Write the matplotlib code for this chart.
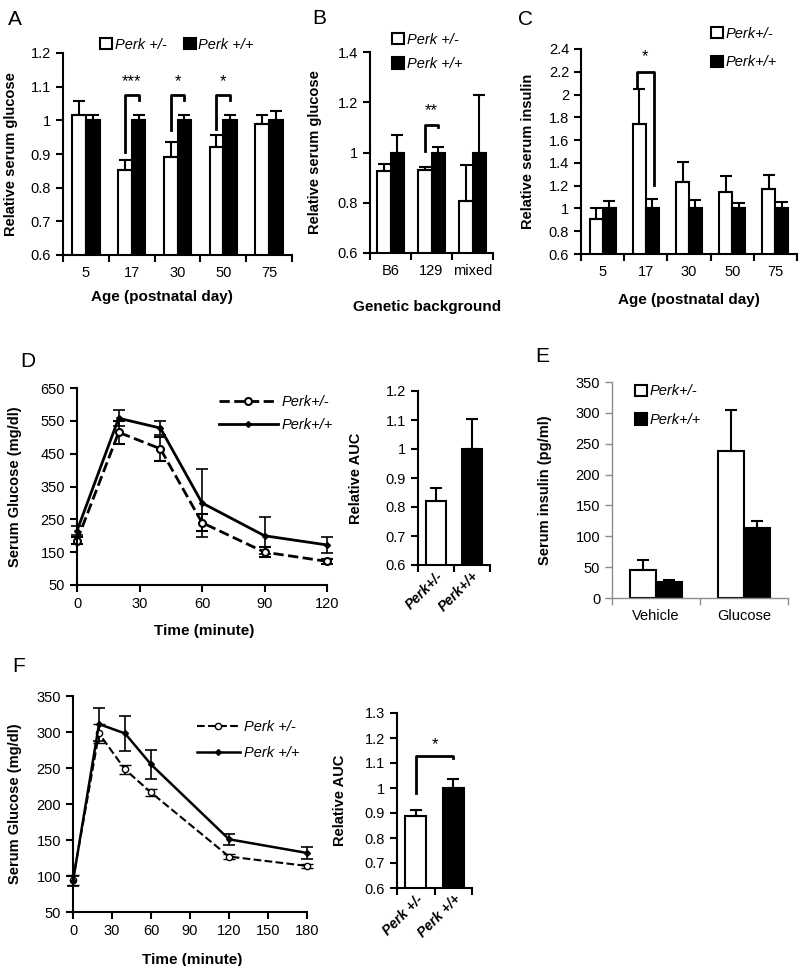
import numpy as np
import matplotlib
matplotlib.use("Agg")
import matplotlib.pyplot as plt
from matplotlib.patches import Patch
from matplotlib.lines import Line2D
from matplotlib.ticker import FormatStrFormatter, FuncFormatter

plt.rcParams['font.family'] = ['Liberation Sans', 'DejaVu Sans']

# ---- data ----
# A: relative serum glucose by age
ages = ['5', '17', '30', '50', '75']
a_het = [1.017, 0.853, 0.89, 0.92, 0.99]
a_het_err = [0.04, 0.028, 0.046, 0.035, 0.025]
a_wt = [1.0, 1.0, 1.0, 1.0, 1.0]
a_wt_err = [0.016, 0.016, 0.017, 0.016, 0.028]

# B: by genetic background
backgrounds = ['B6', '129', 'mixed']
b_het = [0.927, 0.931, 0.807]
b_het_err = [0.027, 0.012, 0.143]
b_wt = [1.0, 1.0, 1.0]
b_wt_err = [0.068, 0.02, 0.228]

# C: relative serum insulin by age
c_het = [0.91, 1.74, 1.23, 1.145, 1.175]
c_het_err = [0.09, 0.31, 0.18, 0.14, 0.12]
c_wt = [1.0, 1.0, 1.0, 1.0, 1.0]
c_wt_err = [0.065, 0.085, 0.075, 0.045, 0.055]

# D: GTT
d_time = [0, 20, 40, 60, 90, 120]
d_het = [185, 515, 465, 240, 150, 122]
d_het_err = [10, 35, 37, 25, 15, 7]
d_wt = [215, 558, 528, 300, 200, 172]
d_wt_err = [14, 25, 22, 103, 57, 25]
d_auc = [0.82, 1.0]
d_auc_err = [0.046, 0.105]
d_auc_labels = ['Perk+/-', 'Perk+/+']

# E: serum insulin
e_groups = ['Vehicle', 'Glucose']
e_het = [46, 239]
e_het_err = [16, 66]
e_wt = [26, 113]
e_wt_err = [3, 11]

# F: second GTT
f_time = [0, 20, 40, 60, 120, 180]
f_het = [95, 298, 248, 216, 127, 114]
f_het_err = [7, 13, 6, 5, 4, 3]
f_wt = [93, 311, 298, 255, 151, 132]
f_wt_err = [7, 23, 24, 20, 8, 8]
f_auc = [0.888, 1.0]
f_auc_err = [0.025, 0.038]
f_auc_labels = ['Perk +/-', 'Perk +/+']

W, H = 799, 966
fig = plt.figure(figsize=(W / 100, H / 100), dpi=100)


def px_axes(x0, y0, x1, y1):
    return fig.add_axes([x0 / W, 1 - y1 / H, (x1 - x0) / W, (y1 - y0) / H])


def style(ax, color='black', lw=1.5):
    for s in ['top', 'right']:
        ax.spines[s].set_visible(False)
    for s in ['left', 'bottom']:
        ax.spines[s].set_linewidth(lw)
        ax.spines[s].set_color(color)
    ax.tick_params(axis='both', which='both', labelsize=10.5, direction='out',
                   length=5, width=lw, color=color)
    ax.yaxis.set_major_formatter(FuncFormatter(lambda v, p: '%g' % round(v, 3)))


def category_axis(ax, labels):
    n = len(labels)
    ax.set_xlim(-0.5, n - 0.5)
    ax.set_xticks(np.arange(n))
    ax.set_xticklabels(labels)
    ax.set_xticks(np.arange(-0.5, n, 1.0), minor=True)
    ax.tick_params(axis='x', which='major', length=0, pad=8)


def pair_bars(ax, het, het_err, wt, wt_err, w):
    x = np.arange(len(het))
    ax.bar(x - w / 2, het, w, color='white', edgecolor='black', lw=1.5, zorder=2)
    ax.bar(x + w / 2, wt, w, color='black', edgecolor='black', lw=1.5, zorder=2)
    ax.errorbar(x - w / 2, het, yerr=[np.zeros(len(x)), het_err], fmt='none',
                ecolor='black', elinewidth=1.5, capsize=4, capthick=1.5, zorder=3)
    ax.errorbar(x + w / 2, wt, yerr=[np.zeros(len(x)), wt_err], fmt='none',
                ecolor='black', elinewidth=1.5, capsize=4, capthick=1.5, zorder=3)


def bracket(ax, x0, x1, yl, ytop, yr, label, ystar, size=12):
    ax.plot([x0, x0, x1, x1], [yl, ytop, ytop, yr], color='black', lw=2, zorder=4,
            clip_on=False)
    ax.text((x0 + x1) / 2, ystar, label, ha='center', va='center', fontsize=size)


def bar_legend(ax, **kw):
    handles = [Patch(facecolor='white', edgecolor='black', lw=1.5),
               Patch(facecolor='black', edgecolor='black', lw=1.5)]
    return handles


label_font = dict(fontsize=10.5, fontweight='bold')

# ---- A ----
axA = px_axes(63, 53, 292, 255)
style(axA)
pair_bars(axA, a_het, a_het_err, a_wt, a_wt_err, 0.3)
category_axis(axA, ages)
axA.set_ylim(0.6, 1.2)
axA.set_yticks(np.round(np.arange(0.6, 1.21, 0.1), 1))
axA.set_ylabel('Relative serum glucose', **label_font)
axA.yaxis.set_label_coords(-45 / 229, 0.5)
axA.set_xlabel('Age (postnatal day)', fontsize=11, fontweight='bold')
axA.xaxis.set_label_coords(0.43, -0.175)
for i, (lb, st) in zip([1, 2, 3], [(0.905, '***'), (0.97, '*'), (0.975, '*')]):
    bracket(axA, i - 0.15, i + 0.15, lb, 1.075, 1.06, st, 1.115)
axA.legend(bar_legend(axA), ['Perk +/-', 'Perk +/+'], ncol=2, frameon=False,
           loc='center left', bbox_to_anchor=(0.13, 1.04), handlelength=0.8,
           handleheight=0.8, handletextpad=0.2, columnspacing=1.2, borderpad=0,
           prop={'style': 'italic', 'size': 10.5})

# ---- B ----
axB = px_axes(370, 52, 493, 253)
style(axB)
pair_bars(axB, b_het, b_het_err, b_wt, b_wt_err, 0.32)
category_axis(axB, backgrounds)
axB.set_ylim(0.6, 1.4)
axB.set_yticks(np.round(np.arange(0.6, 1.41, 0.2), 1))
axB.set_ylabel('Relative serum glucose', **label_font)
axB.yaxis.set_label_coords(-48 / 123, 0.5)
axB.set_xlabel('Genetic background', fontsize=11, fontweight='bold')
axB.xaxis.set_label_coords(0.46, -0.235)
bracket(axB, 1 - 0.16, 1 + 0.16, 1.007, 1.11, 1.10, '**', 1.165)
axB.legend(bar_legend(axB), ['Perk +/-', 'Perk +/+'], frameon=False,
           loc='center left', bbox_to_anchor=(0.12, 1.0), handlelength=0.8,
           handleheight=0.8, handletextpad=0.2, labelspacing=0.7, borderpad=0,
           prop={'style': 'italic', 'size': 10.5})

# ---- C ----
axC = px_axes(581, 49, 797, 254)
style(axC)
pair_bars(axC, c_het, c_het_err, c_wt, c_wt_err, 0.3)
category_axis(axC, ages)
axC.set_ylim(0.6, 2.4)
axC.set_yticks(np.round(np.arange(0.6, 2.41, 0.2), 1))
axC.set_ylabel('Relative serum insulin', **label_font)
axC.yaxis.set_label_coords(-46 / 216, 0.5)
axC.set_xlabel('Age (postnatal day)', fontsize=11, fontweight='bold')
axC.xaxis.set_label_coords(0.5, -0.19)
bracket(axC, 1 - 0.2, 1 + 0.18, 2.06, 2.2, 1.21, '*', 2.33)
axC.legend(bar_legend(axC), ['Perk+/-', 'Perk+/+'], frameon=False,
           loc='center left', bbox_to_anchor=(0.57, 1.005), handlelength=0.8,
           handleheight=0.8, handletextpad=0.2, labelspacing=1.0, borderpad=0,
           prop={'style': 'italic', 'size': 10.5})

# ---- D ----
axD = px_axes(77, 388, 327, 585)
style(axD)
axD.errorbar(d_time, d_het, yerr=d_het_err, color='black', ls='--', lw=2,
             marker='o', ms=5, mfc='white', mec='black', mew=1.5,
             elinewidth=1.2, capsize=4, capthick=1.2, label='Perk+/-', clip_on=False)
axD.errorbar(d_time, d_wt, yerr=d_wt_err, color='black', ls='-', lw=2,
             marker='D', ms=3, mfc='black', mec='black',
             elinewidth=1.2, capsize=4, capthick=1.2, label='Perk+/+', clip_on=False)
axD.set_xlim(0, 120)
axD.set_ylim(50, 650)
axD.set_xticks(np.arange(0, 121, 30))
axD.set_yticks(np.arange(50, 651, 100))
axD.set_ylabel('Serum Glucose (mg/dl)', **label_font)
axD.yaxis.set_label_coords(-55 / 250, 0.5)
axD.set_xlabel('Time (minute)', fontsize=11, fontweight='bold')
axD.xaxis.set_label_coords(0.51, -0.2)
lh = [Line2D([], [], color='black', ls='--', lw=2, marker='o', ms=5, mfc='white', mew=1.5),
      Line2D([], [], color='black', ls='-', lw=2, marker='D', ms=3)]
axD.legend(lh, ['Perk+/-', 'Perk+/+'], frameon=False, loc='center left',
           bbox_to_anchor=(0.54, 0.87), handlelength=4.0, handletextpad=0.3,
           labelspacing=0.6, borderpad=0, prop={'style': 'italic', 'size': 10.5})

axDa = px_axes(418, 391, 490, 565)
style(axDa)
axDa.bar([0, 1], d_auc, 0.55, color=['white', 'black'], edgecolor='black', lw=1.5, zorder=2)
axDa.errorbar([0, 1], d_auc, yerr=[[0, 0], d_auc_err], fmt='none', ecolor='black',
              elinewidth=1.5, capsize=4, capthick=1.5, zorder=3)
category_axis(axDa, d_auc_labels)
axDa.tick_params(axis='x', which='major', pad=3)
for t in axDa.get_xticklabels():
    t.set_rotation(45)
    t.set_ha('right')
    t.set_rotation_mode('anchor')
    t.set_fontweight('bold')
    t.set_fontstyle('italic')
    t.set_fontsize(10)
axDa.set_ylim(0.6, 1.2)
axDa.set_yticks(np.round(np.arange(0.6, 1.21, 0.1), 1))
axDa.set_ylabel('Relative AUC', **label_font)
axDa.yaxis.set_label_coords(-55 / 72, 0.5)

# ---- E ----
axE = px_axes(612, 382, 788, 598)
style(axE, color='#8c8c8c', lw=1.0)
axE.tick_params(axis='both', labelcolor='black')
pair_bars(axE, e_het, e_het_err, e_wt, e_wt_err, 0.3)
category_axis(axE, e_groups)
axE.set_ylim(0, 350)
axE.set_yticks(np.arange(0, 351, 50))
axE.set_ylabel('Serum insulin (pg/ml)', **label_font)
axE.yaxis.set_label_coords(-60 / 176, 0.5)
axE.legend(bar_legend(axE), ['Perk+/-', 'Perk+/+'], frameon=False,
           loc='center left', bbox_to_anchor=(0.09, 0.89), handlelength=0.8,
           handleheight=0.8, handletextpad=0.2, labelspacing=1.0, borderpad=0,
           prop={'style': 'italic', 'size': 10.5})

# ---- F ----
axF = px_axes(73, 696, 307, 912)
style(axF)
axF.errorbar(f_time, f_het, yerr=f_het_err, color='black', ls='--', lw=1.5,
             marker='o', ms=4.5, mfc='white', mec='black', mew=1.0,
             elinewidth=1.2, capsize=4, capthick=1.2, clip_on=False)
axF.errorbar(f_time, f_wt, yerr=f_wt_err, color='black', ls='-', lw=1.8,
             marker='D', ms=3, mfc='black', mec='black',
             elinewidth=1.2, capsize=4, capthick=1.2, clip_on=False)
axF.set_xlim(0, 180)
axF.set_ylim(50, 350)
axF.set_xticks(np.arange(0, 181, 30))
axF.set_yticks(np.arange(50, 351, 50))
axF.set_ylabel('Serum Glucose (mg/dl)', **label_font)
axF.yaxis.set_label_coords(-51 / 234, 0.5)
axF.set_xlabel('Time (minute)', fontsize=11, fontweight='bold')
axF.xaxis.set_label_coords(0.51, -0.19)
lh = [Line2D([], [], color='black', ls='--', lw=1.5, marker='o', ms=4.5, mfc='white'),
      Line2D([], [], color='black', ls='-', lw=1.8, marker='D', ms=3)]
axF.legend(lh, ['Perk +/-', 'Perk +/+'], frameon=False, loc='center left',
           bbox_to_anchor=(0.5, 0.795), handlelength=2.9, handletextpad=0.3,
           labelspacing=0.8, borderpad=0, prop={'style': 'italic', 'size': 10.5})

axFa = px_axes(397, 713, 472, 888)
style(axFa)
axFa.bar([0, 1], f_auc, 0.55, color=['white', 'black'], edgecolor='black', lw=1.5, zorder=2)
axFa.errorbar([0, 1], f_auc, yerr=[[0, 0], f_auc_err], fmt='none', ecolor='black',
              elinewidth=1.5, capsize=4, capthick=1.5, zorder=3)
category_axis(axFa, f_auc_labels)
axFa.tick_params(axis='x', which='major', pad=3)
for t in axFa.get_xticklabels():
    t.set_rotation(45)
    t.set_ha('right')
    t.set_rotation_mode('anchor')
    t.set_fontweight('bold')
    t.set_fontstyle('italic')
    t.set_fontsize(10)
axFa.set_ylim(0.6, 1.3)
axFa.set_yticks(np.round(np.arange(0.6, 1.31, 0.1), 1))
axFa.set_ylabel('Relative AUC', **label_font)
axFa.yaxis.set_label_coords(-50 / 75, 0.5)
bracket(axFa, 0, 1, 0.98, 1.13, 1.12, '*', 1.175)

# panel letters
for letter, (x, y) in zip('ABCDEF', [(8, 10), (312, 9), (518, 10), (20, 352), (535, 347), (12, 657)]):
    fig.text(x / W, 1 - y / H, letter, fontsize=15, ha='left', va='top')

fig.savefig('out.png', dpi=100)
